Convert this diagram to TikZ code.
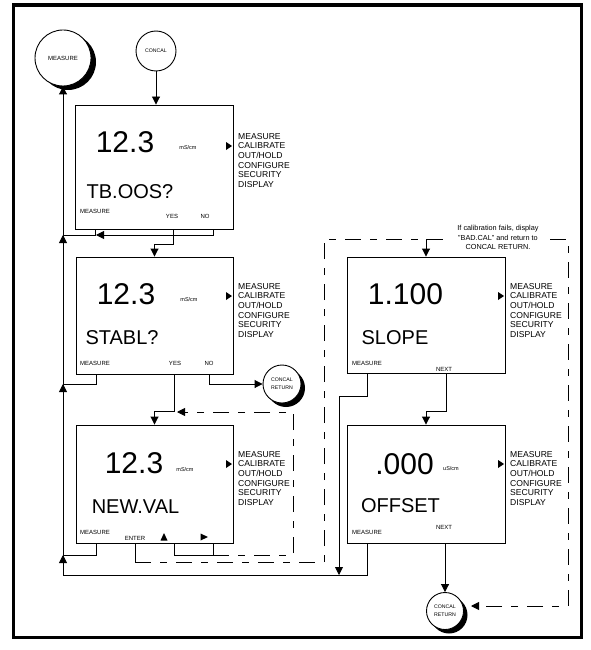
\documentclass[tikz,border=0pt]{standalone}
\usepackage{fontspec}
\setmainfont{Liberation Sans}
\usetikzlibrary{arrows.meta,calc}
\tikzset{
  ln/.style={line width=0.9pt},
  arr/.style={ln,-{Triangle[length=8pt,width=8pt]}},
  dsh/.style={ln,dash pattern=on 16pt off 9pt on 7pt off 9pt},
  darr/.style={dsh,-{Triangle[length=8pt,width=8pt]}},
  scr/.style={draw,line width=0.9pt,inner sep=0pt},
  big/.style={font=\fontsize{30}{30}\selectfont,inner sep=0pt,anchor=base},
  lab/.style={font=\fontsize{20}{20}\selectfont,inner sep=0pt,anchor=base},
  key/.style={font=\fontsize{6}{6}\selectfont,inner sep=0pt},
  unit/.style={font=\fontsize{5.5}{5.5}\selectfont,inner sep=0pt},
  mtxt/.style={font=\fontsize{8.6}{9.7}\selectfont,inner sep=0pt,anchor=base west},
  bub/.style={circle,draw,fill=white,line width=0.9pt,inner sep=0pt,align=center},
  menublock/.pic={
    \fill (-6,10) -- (-12,6) -- (-12,14) -- cycle;
    \foreach \t [count=\i from 0] in {MEASURE,CALIBRATE,OUT/HOLD,CONFIGURE,SECURITY,DISPLAY}
      \node[mtxt] (-l\i) at (0,{3.1+\i*9.7}) {\t};
  },
}
\begin{document}
\begin{tikzpicture}[x=1pt,y=-1pt]
\useasboundingbox (0,0) rectangle (591,650);
\draw[line width=3.8pt] (13.5,5) rectangle (581.5,637.5);

% screens
\node[scr,minimum width=158pt,minimum height=124pt] (b1) at (154,167) {};
\node[scr,minimum width=157pt,minimum height=117pt] (b2) at (154.5,315.5) {};
\node[scr,minimum width=157pt,minimum height=118pt] (b3) at (154.5,484) {};
\node[scr,minimum width=158pt,minimum height=116pt] (bs) at (426,315) {};
\node[scr,minimum width=158pt,minimum height=118pt] (bo) at (426,484) {};

% bubbles
\fill (68,62) circle (28);
\node[bub,minimum size=56pt,font=\fontsize{6}{6}\selectfont] (meas) at (63,58) {MEASURE};
\node[bub,minimum size=40pt,font=\fontsize{5.2}{6}\selectfont] (concal) at (156,51) {CONCAL};
\fill (286,388) circle (19);
\node[bub,minimum size=38pt,font=\fontsize{5.2}{8}\selectfont] (cr1) at (282,384) {CONCAL\\RETURN};
\fill (449,615) circle (18.5);
\node[bub,minimum size=37pt,font=\fontsize{5.2}{8}\selectfont] (cr2) at (445,611) {CONCAL\\RETURN};

% coordinates
\coordinate (j1) at (63,235);
\coordinate (j2) at (63,384);
\coordinate (j3) at (63,555);
\coordinate (jb) at (63,575);
\coordinate (b1m) at (95,229);
\coordinate (b1y) at (173,229);
\coordinate (b1n) at (213,229);
\coordinate (b2m) at (96,374);
\coordinate (b2y) at (174,374);
\coordinate (b2n) at (209,374);
\coordinate (b3m) at (96,543);
\coordinate (b3e) at (135,543);
\coordinate (b3u) at (174,543);
\coordinate (b3r) at (213,543);
\coordinate (k) at (213,555);
\coordinate (d1) at (293,555);
\coordinate (d2) at (293,412);
\coordinate (d3) at (177,412);
\coordinate (e1) at (135,562);
\coordinate (e2) at (324,562);
\coordinate (e3) at (324,239);
\coordinate (e4) at (568,239);
\coordinate (e5) at (568,606);
\coordinate (e6) at (471,606);
\coordinate (bsm) at (367,373);
\coordinate (bsn) at (446,373);
\coordinate (s1) at (339,396);
\coordinate (bom) at (367,543);
\coordinate (bon) at (445,543);

% left return line to MEASURE
\draw[arr] (jb) -- (meas.south);
\draw[arr] ($(j1)+(0,9)$) -- (j1);
\draw[arr] ($(j2)+(0,9)$) -- (j2);
\draw[arr] ($(j3)+(0,9)$) -- (j3);

\draw[arr] (concal.south) -- (concal.south |- b1.north);

% box 1 keys
\draw[ln] (b1m) |- (j1);
\draw[arr] (b1n) |- ($(b1m |- j1)+(1,0)$);
\draw[arr] (b1y) |- ($(b2.north)-(0,12)$) -- (b2.north);

% box 2 keys
\draw[ln] (b2m) |- (j2);
\draw[arr] (b2n) |- (cr1.west);
\draw[arr] (b2y) |- ($(b3.north)-(0,13)$) -- (b3.north);

% box 3 keys
\draw[ln] (b3m) |- (j3);
\draw[ln] (b3u) |- (k);
\draw[ln] (b3r) -- (k);
\draw[darr] (k) -- (d1) -- (d2) -- (d3);
\draw[ln] (b3e) -- (e1);
\draw[darr] (e1) -- (e2) -- (e3) -- (e4) -- (e5) -- (e6);
\draw[arr] (bs.north |- e3) -- (bs.north);

% slope keys
\draw[arr] (bsm) |- (s1) -- (s1 |- jb);
\draw[arr] (bsn) |- ($(bo.north)-(0,13)$) -- (bo.north);

% offset keys
\draw[ln] (bom) |- (jb);
\draw[arr] (bon) -- (cr2.north);

% caption
\node[fill=white,inner xsep=7pt,inner ysep=1pt,align=center,font=\fontsize{7.3}{9.5}\selectfont] (cap) at (498,237.5) {If calibration fails, display\\"BAD.CAL" and return to\\CONCAL RETURN.};

% box 1 texts
\node[big] (b1v) at (125,152) {12.3};
\node[unit] (b1u) at (188,148) {mS/cm};
\node[lab] (b1t) at (130,198) {TB.OOS?};
\node[key] (b1km) at (95,211) {MEASURE};
\node[key] (b1ky) at (172,216) {YES};
\node[key] (b1kn) at (205,216) {NO};
\pic (m1) at (238,136) {menublock};

% box 2 texts
\node[big] (b2v) at (126,304) {12.3};
\node[unit] (b2u) at (189,300) {mS/cm};
\node[lab] (b2t) at (122,344) {STABL?};
\node[key] (b2km) at (95,363) {MEASURE};
\node[key] (b2ky) at (175,363) {YES};
\node[key] (b2kn) at (209,363) {NO};
\pic (m2) at (238,286) {menublock};

% box 3 texts
\node[big] (b3v) at (134,473) {12.3};
\node[unit] (b3u) at (185,470) {mS/cm};
\node[lab] (b3t) at (135.5,513) {NEW.VAL};
\node[key] (b3km) at (95,532) {MEASURE};
\node[key] (b3ke) at (135,538) {ENTER};
\fill (160.5,540.5) -- (164,533) -- (167.5,540.5) -- cycle;
\fill (200.5,533.5) -- (208,537) -- (200.5,540.5) -- cycle;
\pic (m3) at (238,454) {menublock};

% slope texts
\node[big] (bsv) at (405.5,304) {1.100};
\node[lab] (bst) at (395,344) {SLOPE};
\node[key] (bskm) at (367,363) {MEASURE};
\node[key] (bskn) at (444,369) {NEXT};
\pic (ms) at (510,286) {menublock};

% offset texts
\node[big] (bov) at (404.5,474) {.000};
\node[unit] (bou) at (451,469) {uS/cm};
\node[lab] (bot) at (400.5,512) {OFFSET};
\node[key] (bokm) at (367,532) {MEASURE};
\node[key] (bokn) at (444,527) {NEXT};
\pic (mo) at (510,454) {menublock};
\end{tikzpicture}
\end{document}
